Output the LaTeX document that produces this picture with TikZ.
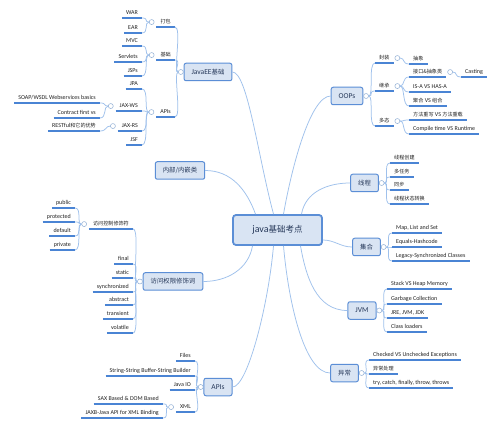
\documentclass[tikz,border=0pt]{standalone}
\usepackage{fontspec}
\setmainfont{Carlito}
\newfontfamily\cjk[Scale=0.85]{Noto Sans CJK SC}
\usetikzlibrary{positioning}
\definecolor{nodeblue}{HTML}{5B8ED6}
\definecolor{nodefill}{HTML}{D9E4F3}
\definecolor{linkblue}{HTML}{9FC1EC}
\definecolor{lineblue}{HTML}{4A84D4}
\definecolor{titletext}{HTML}{27395A}
\definecolor{leaftext}{HTML}{222222}

\tikzset{
  root/.style={draw=nodeblue, line width=1.8pt, fill=nodefill, rounded corners=3pt,
    minimum width=89pt, minimum height=30pt, text=titletext, font=\fontsize{10}{12}\selectfont},
  topic/.style={draw=nodeblue, line width=1pt, fill=nodefill, rounded corners=2pt,
    minimum height=17.5pt, inner xsep=7.5pt, text=titletext, font=\fontsize{7.5}{9}\selectfont},
  uline/.style={draw=lineblue, line width=1.3pt},
  leaf/.style={inner xsep=4pt, inner ysep=1.5pt, text height=5pt, text depth=1.5pt,
    text=leaftext, font=\fontsize{6}{7}\selectfont,
    append after command={(\tikzlastnode.south west) edge[uline] (\tikzlastnode.south east)}},
  tog/.style={circle, draw=linkblue!90!black, fill=white, line width=0.5pt,
    inner sep=0pt, minimum size=5pt},
  link/.style={draw=linkblue, line width=0.75pt},
  fanR/.style={draw=linkblue, line width=0.75pt, out=0, in=180, out distance=5pt, in distance=7pt},
  fanL/.style={draw=linkblue, line width=0.75pt, out=180, in=0, out distance=5pt, in distance=7pt},
}

\begin{document}
\begin{tikzpicture}[x=1pt, y=-1pt]
  \fill[white] (0,0) rectangle (500,427);
  \useasboundingbox (0,0) rectangle (500,427);

  % central topic and main branches
  \node[root] (java) at (277.5,230) {java{\cjk 基础考点}};
  \node[topic] (ee) at (208,72) {JavaEE{\cjk 基础}};
  \node[topic] (oop) at (347,96) {OOPs};
  \node[topic] (inner) at (180,170.5) {\cjk 内部/内嵌类};
  \node[topic] (thread) at (364.5,183) {\cjk 线程};
  \node[topic] (coll) at (366.5,247) {\cjk 集合};
  \node[topic] (mod) at (173,281.5) {\cjk 访问权限修饰词};
  \node[topic] (jvm) at (362,310.5) {JVM};
  \node[topic] (api) at (218,387) {APIs};
  \node[topic] (exc) at (344.5,373) {\cjk 异常};

  \draw[link] ([xshift=-4pt]java.north) to[out=105, in=0, out distance=60pt, in distance=15pt] (ee.east);
  \draw[link] ([xshift=6pt]java.north) to[out=80, in=180, out distance=50pt, in distance=20pt] (oop.west);
  \draw[link] ([xshift=24pt]java.north) to[out=80, in=180] (thread.west);
  \draw[link] ([xshift=-22pt]java.north) to[out=110, in=0] (inner.east);
  \draw[link] ([yshift=-10pt]java.east) to[out=0, in=180] (coll.west);
  \draw[link] ([xshift=-25pt]java.south) to[out=-100, in=0] (mod.east);
  \draw[link] ([xshift=-4pt]java.south) to[out=-95, in=0, out distance=60pt, in distance=15pt] (api.east);
  \draw[link] ([xshift=6pt]java.south) to[out=-85, in=180, out distance=60pt, in distance=25pt] (exc.west);
  \draw[link] ([xshift=23pt]java.south) to[out=-80, in=180] (jvm.west);

  % JavaEE
  \node[tog, left=0pt of ee] (ee-t) {};
  \node[leaf, anchor=south east] (pack) at (175,27) {\cjk 打包};
  \node[leaf, anchor=south east] (war) at (142,18) {WAR};
  \node[leaf, anchor=south east] (ear) at (142,33) {EAR};
  \node[leaf, anchor=south east] (base) at (175,60) {\cjk 基础};
  \node[leaf, anchor=south east] (mvc) at (142,46) {MVC};
  \node[leaf, anchor=south east] (svl) at (142,62) {Servlets};
  \node[leaf, anchor=south east] (jsp) at (142,76) {JSPs};
  \node[leaf, anchor=south east] (eapi) at (175,117) {APIs};
  \node[leaf, anchor=south east] (jpa) at (142,89) {JPA};
  \node[leaf, anchor=south east] (jaxws) at (142,111) {JAX-WS};
  \node[leaf, anchor=south east] (soap) at (100,103) {SOAP/WSDL Webservices basics};
  \node[leaf, anchor=south east] (cfv) at (100,118) {Contract first vs};
  \node[leaf, anchor=south east] (jaxrs) at (142,131) {JAX-RS};
  \node[leaf, anchor=south east] (rest) at (100,131) {RESTful{\cjk 和它的优势}};
  \node[leaf, anchor=south east] (jsf) at (142,145) {JSF};
  \node[tog, left=2pt of pack] (pack-t) {};
  \node[tog, left=2pt of base] (base-t) {};
  \node[tog, left=2pt of eapi] (eapi-t) {};
  \node[tog, left=2pt of jaxws] (jaxws-t) {};
  \node[tog, left=2pt of jaxrs] (jaxrs-t) {};
  \foreach \n in {pack,base,eapi} \draw[fanL] (ee-t.west) to (\n.south east);
  \foreach \n in {war,ear} \draw[fanL] (pack-t.west) to (\n.south east);
  \foreach \n in {mvc,svl,jsp} \draw[fanL] (base-t.west) to (\n.south east);
  \foreach \n in {jpa,jaxws,jaxrs,jsf} \draw[fanL] (eapi-t.west) to (\n.south east);
  \foreach \n in {soap,cfv} \draw[fanL] (jaxws-t.west) to (\n.south east);
  \draw[fanL] (jaxrs-t.west) to (rest.south east);

  % OOPs
  \node[tog, right=0pt of oop] (oop-t) {};
  \node[leaf, anchor=south west] (enc) at (375,63) {\cjk 封装};
  \node[leaf, anchor=south west] (abs) at (409,64) {\cjk 抽象};
  \node[leaf, anchor=south west] (inh) at (375,91) {\cjk 继承};
  \node[leaf, anchor=south west] (iface) at (409,77) {\cjk 接口\&抽象类};
  \node[leaf, anchor=south west] (cast) at (461,77) {Casting};
  \node[leaf, anchor=south west] (isa) at (409,92) {IS-A VS HAS-A};
  \node[leaf, anchor=south west] (agg) at (409,106) {{\cjk 聚合} VS {\cjk 组合}};
  \node[leaf, anchor=south west] (poly) at (375,126) {\cjk 多态};
  \node[leaf, anchor=south west] (ovr) at (409,120) {{\cjk 方法重写} VS {\cjk 方法重载}};
  \node[leaf, anchor=south west] (rt) at (409,134) {Compile time VS Runtime};
  \node[tog, right=1pt of enc] (enc-t) {};
  \node[tog, right=1pt of inh] (inh-t) {};
  \node[tog, right=1pt of poly] (poly-t) {};
  \node[tog, right=1pt of iface] (iface-t) {};
  \foreach \n in {enc,inh,poly} \draw[fanR] (oop-t.east) to (\n.south west);
  \draw[fanR] (enc-t.east) to (abs.south west);
  \foreach \n in {iface,isa,agg} \draw[fanR] (inh-t.east) to (\n.south west);
  \draw[fanR] (iface-t.east) to (cast.south west);
  \foreach \n in {ovr,rt} \draw[fanR] (poly-t.east) to (\n.south west);

  % threads
  \node[tog, right=0pt of thread] (thread-t) {};
  \node[leaf, anchor=south west] (th1) at (390,163) {\cjk 线程创建};
  \node[leaf, anchor=south west] (th2) at (390,177) {\cjk 多任务};
  \node[leaf, anchor=south west] (th3) at (390,190) {\cjk 同步};
  \node[leaf, anchor=south west] (th4) at (390,204) {\cjk 线程状态转换};
  \foreach \n in {th1,th2,th3,th4} \draw[fanR] (thread-t.east) to (\n.south west);

  % collections
  \node[tog, right=0pt of coll] (coll-t) {};
  \node[leaf, anchor=south west] (co1) at (392,233) {Map, List and Set};
  \node[leaf, anchor=south west] (co2) at (392,247) {Equals-Hashcode};
  \node[leaf, anchor=south west] (co3) at (392,261) {Legacy-Synchronized Classes};
  \foreach \n in {co1,co2,co3} \draw[fanR] (coll-t.east) to (\n.south west);

  % JVM
  \node[tog, right=0pt of jvm] (jvm-t) {};
  \node[leaf, anchor=south west] (jv1) at (387,289) {Stack VS Heap Memory};
  \node[leaf, anchor=south west] (jv2) at (387,304) {Garbage Collection};
  \node[leaf, anchor=south west] (jv3) at (387,318) {JRE, JVM, JDK};
  \node[leaf, anchor=south west] (jv4) at (387,332) {Class loaders};
  \foreach \n in {jv1,jv2,jv3,jv4} \draw[fanR] (jvm-t.east) to (\n.south west);

  % exceptions
  \node[tog, right=0pt of exc] (exc-t) {};
  \node[leaf, anchor=south west] (ex1) at (369,360) {Checked VS Unchecked Exceptions};
  \node[leaf, anchor=south west] (ex2) at (369,374) {\cjk 异常处理};
  \node[leaf, anchor=south west] (ex3) at (369,388) {try, catch, finally, throw, throws};
  \foreach \n in {ex1,ex2,ex3} \draw[fanR] (exc-t.east) to (\n.south west);

  % modifiers
  \node[tog, left=0pt of mod] (mod-t) {};
  \node[leaf, anchor=south east] (acc) at (133,229) {\cjk 访问控制修饰符};
  \node[leaf, anchor=south east] (pub) at (75,208) {public};
  \node[leaf, anchor=south east] (pro) at (75,222) {protected};
  \node[leaf, anchor=south east] (def) at (75,236) {default};
  \node[leaf, anchor=south east] (pri) at (75,250) {private};
  \node[leaf, anchor=south east] (fin) at (133,264) {final};
  \node[leaf, anchor=south east] (sta) at (133,278) {static};
  \node[leaf, anchor=south east] (syn) at (133,292) {synchronized};
  \node[leaf, anchor=south east] (abst) at (133,305) {abstract};
  \node[leaf, anchor=south east] (tra) at (133,319) {transient};
  \node[leaf, anchor=south east] (vol) at (133,333) {volatile};
  \node[tog, left=2pt of acc] (acc-t) {};
  \foreach \n in {acc,fin,sta,syn,abst,tra,vol} \draw[fanL] (mod-t.west) to (\n.south east);
  \foreach \n in {pub,pro,def,pri} \draw[fanL] (acc-t.west) to (\n.south east);

  % APIs
  \node[tog, left=0pt of api] (api-t) {};
  \node[leaf, anchor=south east] (files) at (195,361) {Files};
  \node[leaf, anchor=south east] (str) at (195,376) {String-String Buffer-String Builder};
  \node[leaf, anchor=south east] (jio) at (195,390) {Java IO};
  \node[leaf, anchor=south east] (xml) at (195,412) {XML};
  \node[leaf, anchor=south east] (sax) at (163,404) {SAX Based \& DOM Based};
  \node[leaf, anchor=south east] (jaxb) at (163,418) {JAXB-Java API for XML Binding};
  \node[tog, left=2pt of xml] (xml-t) {};
  \foreach \n in {files,str,jio,xml} \draw[fanL] (api-t.west) to (\n.south east);
  \foreach \n in {sax,jaxb} \draw[fanL] (xml-t.west) to (\n.south east);
\end{tikzpicture}
\end{document}
